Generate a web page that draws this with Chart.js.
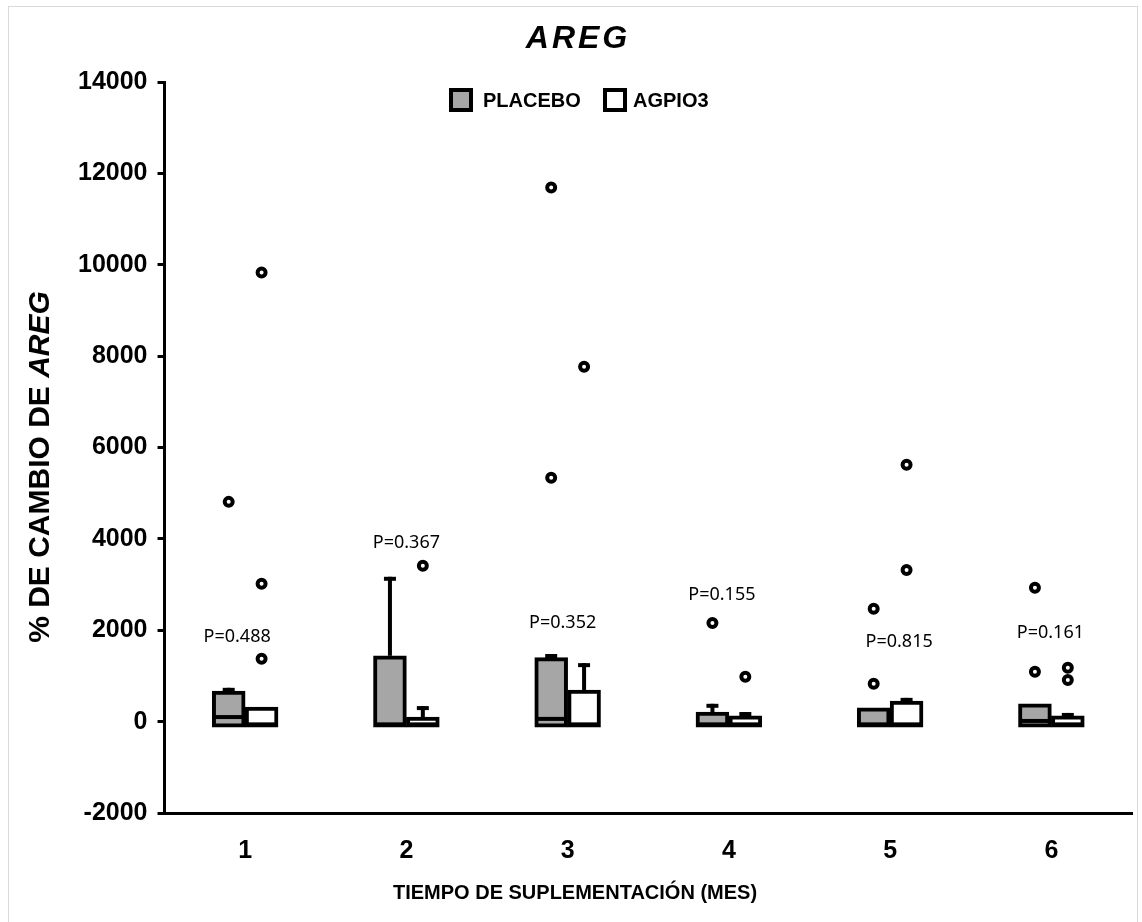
<!DOCTYPE html>
<html>
<head>
<meta charset="utf-8">
<script src="https://cdn.jsdelivr.net/npm/chart.js@4.4.1/dist/chart.umd.min.js"></script>
<style>
  body { margin: 0; background: #fff; }
  #frame { position: absolute; left: 8px; top: 6px; width: 1128px; height: 930px; border: 1px solid #d9d9d9; }
  #wrap { position: absolute; left: 0; top: 0; width: 1142px; height: 922px; }
</style>
</head>
<body>
<div id="frame"></div>
<div id="wrap"><canvas id="chart"></canvas></div>
<script>
(function () {
    const months = ['1', '2', '3', '4', '5', '6'];

    // box plot summaries (% change)
    const placeboQ1 = [-120, -120, -120, -120, -120, -120];
    const placeboMedian = [100, -60, 60, -60, -60, 15];
    const placeboQ3 = [670, 1440, 1400, 210, 300, 390];
    const placeboMax = [740, 3170, 1480, 390, 300, 390];

    const agpioQ1 = [-120, -120, -120, -120, -120, -120];
    const agpioMedian = [-60, -60, -60, -60, -60, -60];
    const agpioQ3 = [320, 100, 690, 125, 450, 125];
    const agpioMax = [320, 340, 1280, 210, 520, 190];

    // outliers per month
    const placeboOutliers = [[4810], [], [11690, 5340], [2160], [2470, 830], [2930, 1090]];
    const agpioOutliers = [[9830, 3020, 1375], [3410], [7770], [980], [5620, 3320], [1180, 910]];

    const pValues = ['P=0.488', 'P=0.367', 'P=0.352', 'P=0.155', 'P=0.815', 'P=0.161'];
    const pLabelY = [1860, 3920, 2160, 2780, 1750, 1950];
    const pLabelShift = [-8, 0, -5, -7, 9, -1];

    const yTicks = [-2000, 0, 2000, 4000, 6000, 8000, 10000, 12000, 14000];

    const boxShift = 0.102;
    const toBoxes = (lo, hi, shift) => lo.map((q, i) => ({x: i + 1 + shift, y: [q, hi[i]]}));
    const toPoints = (lists, shift) => lists.flatMap((vals, i) => vals.map(v => ({x: i + 1 + shift, y: v})));

    const boxExtras = {
        id: 'boxExtras',
        afterDatasetsDraw(chart) {
            const ctx = chart.ctx;
            const y = chart.scales.y;
            const sets = [
                {meta: 0, median: placeboMedian, q3: placeboQ3, max: placeboMax},
                {meta: 1, median: agpioMedian, q3: agpioQ3, max: agpioMax}
            ];
            ctx.save();
            ctx.strokeStyle = '#000';
            ctx.lineWidth = 4;
            ctx.lineCap = 'butt';
            sets.forEach(s => {
                chart.getDatasetMeta(s.meta).data.forEach((bar, i) => {
                    const half = bar.width / 2;
                    const my = y.getPixelForValue(s.median[i]);
                    ctx.beginPath();
                    ctx.moveTo(bar.x - half + 2, my);
                    ctx.lineTo(bar.x + half - 2, my);
                    ctx.stroke();
                    if (s.max[i] > s.q3[i]) {
                        const top = y.getPixelForValue(s.max[i]);
                        ctx.beginPath();
                        ctx.moveTo(bar.x, y.getPixelForValue(s.q3[i]));
                        ctx.lineTo(bar.x, top);
                        ctx.stroke();
                        ctx.beginPath();
                        ctx.moveTo(bar.x - 6, top + 2);
                        ctx.lineTo(bar.x + 6, top + 2);
                        ctx.stroke();
                    }
                });
            });

            // p values
            const x = chart.scales.x;
            ctx.fillStyle = '#000';
            ctx.font = '18px "Noto Sans"';
            ctx.textAlign = 'center';
            ctx.textBaseline = 'middle';
            pValues.forEach((t, i) => {
                ctx.fillText(t, x.getPixelForValue(i + 1) + pLabelShift[i], y.getPixelForValue(pLabelY[i]));
            });
            ctx.restore();
        },
        afterDraw(chart) {
            const ctx = chart.ctx;
            ctx.save();
            ctx.fillStyle = '#000';
            ctx.textBaseline = 'middle';

            // title
            ctx.font = 'italic bold 32px "Liberation Sans"';
            ctx.textAlign = 'center';
            ctx.letterSpacing = '3px';
            ctx.fillText('AREG', 578, 39);
            ctx.letterSpacing = '0px';

            // legend
            ctx.lineWidth = 4;
            ctx.strokeStyle = '#000';
            ctx.fillStyle = '#a6a6a6';
            ctx.fillRect(451, 90, 20, 20);
            ctx.strokeRect(451, 90, 20, 20);
            ctx.fillStyle = '#fff';
            ctx.fillRect(605, 90, 20, 20);
            ctx.strokeRect(605, 90, 20, 20);
            ctx.fillStyle = '#000';
            ctx.font = 'bold 20px "Liberation Sans"';
            ctx.textAlign = 'left';
            ctx.fillText('PLACEBO', 483, 101);
            ctx.fillText('AGPIO3', 633, 101);

            // x title
            ctx.textAlign = 'center';
            ctx.fillText('TIEMPO DE SUPLEMENTACIÓN (MES)', 575, 893);

            // y title, last word in italics
            ctx.translate(41, 467);
            ctx.rotate(-Math.PI / 2);
            const a = '% DE CAMBIO DE ';
            const b = 'AREG';
            ctx.font = 'bold 30px "Liberation Sans"';
            const wa = ctx.measureText(a).width;
            ctx.font = 'italic bold 30px "Liberation Sans"';
            const wb = ctx.measureText(b).width;
            const start = -(wa + wb) / 2;
            ctx.textAlign = 'left';
            ctx.font = 'bold 30px "Liberation Sans"';
            ctx.fillText(a, start, 0);
            ctx.font = 'italic bold 30px "Liberation Sans"';
            ctx.fillText(b, start + wa, 0);
            ctx.restore();
        }
    };

    const outlierStyle = {
        type: 'scatter',
        pointRadius: 4,
        pointBorderWidth: 4,
        pointBackgroundColor: '#fff',
        pointBorderColor: '#000'
    };

    new Chart(
        document.getElementById('chart'),
        {
            type: 'bar',
            data: {
                datasets: [
                    {
                        label: 'PLACEBO',
                        data: toBoxes(placeboQ1, placeboQ3, -boxShift),
                        backgroundColor: '#a6a6a6',
                        borderColor: '#000',
                        borderWidth: 4,
                        borderSkipped: false,
                        grouped: false,
                        barPercentage: 1,
                        categoryPercentage: 1
                    },
                    {
                        label: 'AGPIO3',
                        data: toBoxes(agpioQ1, agpioQ3, boxShift),
                        backgroundColor: '#fff',
                        borderColor: '#000',
                        borderWidth: 4,
                        borderSkipped: false,
                        grouped: false,
                        barPercentage: 1,
                        categoryPercentage: 1
                    },
                    Object.assign({label: 'PLACEBO outliers', data: toPoints(placeboOutliers, -boxShift)}, outlierStyle),
                    Object.assign({label: 'AGPIO3 outliers', data: toPoints(agpioOutliers, boxShift)}, outlierStyle)
                ]
            },
            options: {
                responsive: true,
                maintainAspectRatio: false,
                animation: false,
                layout: {
                    padding: {left: 68, right: 10, top: 82, bottom: 33}
                },
                scales: {
                    x: {
                        type: 'linear',
                        min: 0.5,
                        max: 6.5,
                        offset: false,
                        afterBuildTicks: axis => {
                            axis.ticks = months.map((m, i) => ({value: i + 1}));
                        },
                        grid: {display: false, drawTicks: false},
                        border: {display: true, color: '#000', width: 3},
                        ticks: {
                            color: '#000',
                            padding: 23,
                            maxRotation: 0,
                            callback: v => months[v - 1],
                            font: {family: 'Liberation Sans', size: 25, weight: 'bold'}
                        }
                    },
                    y: {
                        min: -2000,
                        max: 14000,
                        afterBuildTicks: axis => {
                            axis.ticks = yTicks.map(v => ({value: v}));
                        },
                        grid: {
                            display: true,
                            drawOnChartArea: false,
                            drawTicks: true,
                            tickLength: 7,
                            color: '#000',
                            lineWidth: 3
                        },
                        border: {display: true, color: '#000', width: 3},
                        ticks: {
                            color: '#000',
                            padding: 10,
                            callback: v => String(v),
                            font: {family: 'Liberation Sans', size: 25, weight: 'bold'}
                        }
                    }
                },
                plugins: {
                    legend: {display: false},
                    tooltip: {enabled: false}
                }
            },
            plugins: [boxExtras]
        }
    );
})();
</script>
</body>
</html>
